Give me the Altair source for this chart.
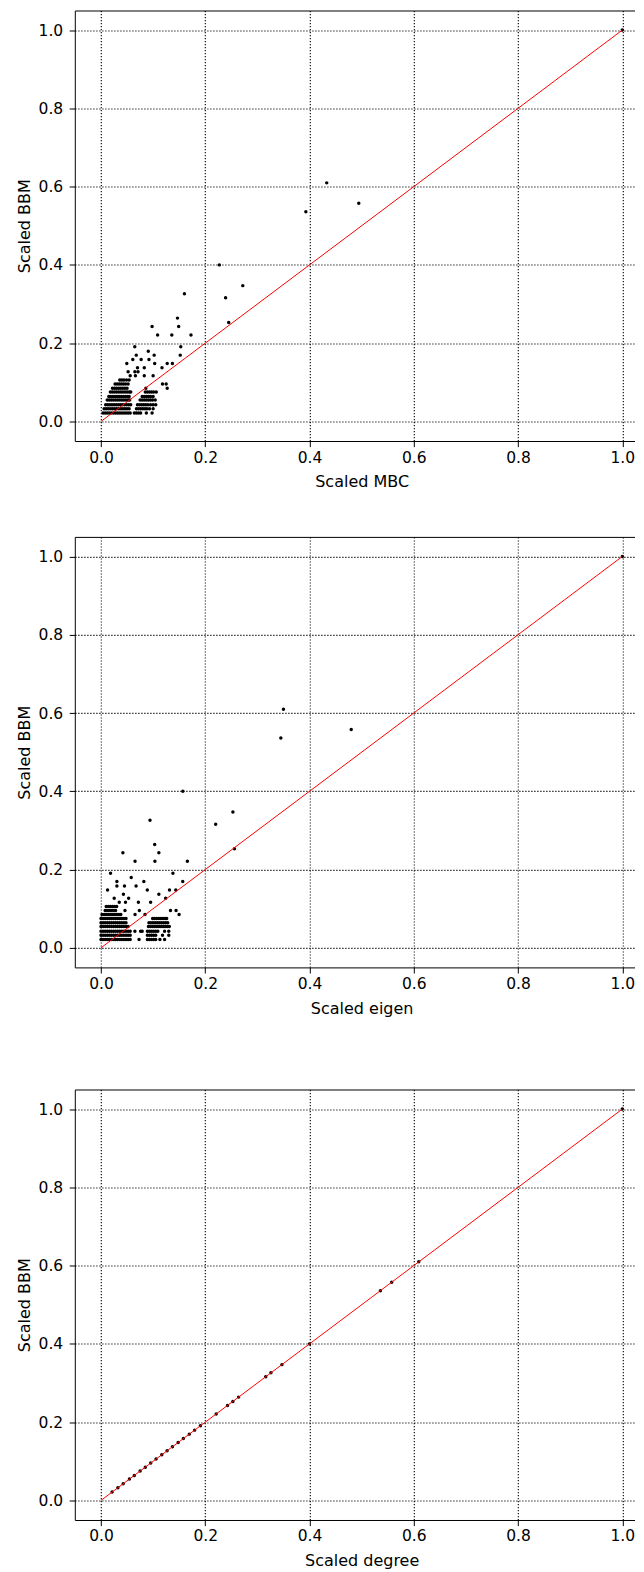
import altair as alt
import pandas as pd

# BBM levels (y values, shared by the three panels)
bbm_levels = [0.0213, 0.0324, 0.0426, 0.0545, 0.0639, 0.0750, 0.0850, 0.0954,
              0.1056, 0.1166, 0.1268, 0.1370, 0.1480, 0.1580, 0.1694, 0.1796,
              0.1907, 0.2210, 0.2427, 0.2530, 0.2640, 0.3160, 0.3260, 0.3470,
              0.4000, 0.5360, 0.5577, 0.6096, 1.0000]

# Scaled MBC values for each BBM level
mbc_rows = [
    [0.004, 0.008, 0.012, 0.016, 0.020, 0.024, 0.028, 0.032, 0.036, 0.040, 0.044, 0.048, 0.052, 0.056, 0.064, 0.068, 0.072, 0.076, 0.087, 0.098],
    [0.006, 0.010, 0.014, 0.018, 0.022, 0.026, 0.030, 0.034, 0.038, 0.042, 0.046, 0.050, 0.054, 0.068, 0.072, 0.076, 0.080, 0.084, 0.088, 0.093, 0.100],
    [0.009, 0.013, 0.017, 0.021, 0.025, 0.029, 0.033, 0.037, 0.041, 0.045, 0.049, 0.053, 0.057, 0.070, 0.074, 0.078, 0.082, 0.086, 0.090, 0.095, 0.100, 0.105],
    [0.012, 0.016, 0.020, 0.024, 0.028, 0.032, 0.036, 0.040, 0.044, 0.048, 0.052, 0.055, 0.075, 0.079, 0.083, 0.087, 0.091, 0.095, 0.099, 0.104],
    [0.015, 0.019, 0.023, 0.027, 0.031, 0.035, 0.039, 0.043, 0.047, 0.051, 0.054, 0.079, 0.083, 0.087, 0.091, 0.095, 0.100],
    [0.018, 0.022, 0.026, 0.030, 0.034, 0.038, 0.042, 0.046, 0.050, 0.054, 0.057, 0.085, 0.089, 0.093, 0.097, 0.101, 0.106],
    [0.022, 0.026, 0.030, 0.034, 0.038, 0.042, 0.046, 0.050, 0.086, 0.127],
    [0.027, 0.031, 0.035, 0.039, 0.043, 0.047, 0.052, 0.118, 0.125],
    [0.036, 0.040, 0.044, 0.049, 0.054],
    [0.056, 0.066, 0.083, 0.100],
    [0.052, 0.065, 0.071],
    [0.070, 0.083, 0.117],
    [0.0495, 0.103, 0.127, 0.137],
    [0.061, 0.077, 0.092],
    [0.0676, 0.102, 0.152],
    [0.0907],
    [0.0648, 0.153],
    [0.1086, 0.1358, 0.1726],
    [0.098, 0.149],
    [0.245],
    [0.1467],
    [0.239],
    [0.160],
    [0.272],
    [0.227],
    [0.393],
    [0.4945],
    [0.433],
    [1.0],
]

# Scaled eigen values for each BBM level
eigen_rows = [
    [0.000, 0.004, 0.008, 0.012, 0.016, 0.020, 0.024, 0.028, 0.032, 0.036, 0.040, 0.044, 0.048, 0.052, 0.056, 0.073, 0.089, 0.093, 0.097, 0.101, 0.105, 0.113, 0.122],
    [0.000, 0.004, 0.008, 0.012, 0.016, 0.020, 0.024, 0.028, 0.032, 0.036, 0.040, 0.044, 0.048, 0.052, 0.056, 0.089, 0.093, 0.097, 0.101, 0.105, 0.118, 0.130],
    [0.000, 0.004, 0.008, 0.012, 0.016, 0.020, 0.024, 0.028, 0.032, 0.036, 0.040, 0.044, 0.048, 0.052, 0.056, 0.065, 0.076, 0.079, 0.089, 0.093, 0.097, 0.101, 0.105, 0.109, 0.122, 0.130],
    [0.000, 0.004, 0.008, 0.012, 0.016, 0.020, 0.024, 0.028, 0.032, 0.036, 0.040, 0.044, 0.048, 0.052, 0.091, 0.095, 0.099, 0.103, 0.107, 0.111, 0.115, 0.119, 0.123, 0.127, 0.131],
    [0.000, 0.004, 0.008, 0.012, 0.016, 0.020, 0.024, 0.028, 0.032, 0.036, 0.040, 0.044, 0.048, 0.092, 0.096, 0.100, 0.104, 0.108, 0.112, 0.116, 0.120, 0.124, 0.128],
    [0.000, 0.004, 0.008, 0.012, 0.016, 0.020, 0.024, 0.028, 0.032, 0.036, 0.040, 0.044, 0.048, 0.099, 0.103, 0.107, 0.111, 0.115, 0.119, 0.123, 0.126],
    [0.002, 0.006, 0.010, 0.014, 0.018, 0.022, 0.026, 0.030, 0.034, 0.038, 0.0653, 0.0844, 0.1498],
    [0.008, 0.012, 0.016, 0.020, 0.024, 0.028, 0.046, 0.0736, 0.1333, 0.144],
    [0.010, 0.014, 0.018, 0.022, 0.026, 0.030],
    [0.035, 0.047, 0.0717, 0.0952],
    [0.0253, 0.053, 0.124],
    [0.043, 0.111],
    [0.0126, 0.0888, 0.1314, 0.1435],
    [0.0305, 0.045, 0.0673],
    [0.0305, 0.0822, 0.1568],
    [0.058],
    [0.0183, 0.138],
    [0.0653, 0.1034, 0.1657],
    [0.042, 0.111],
    [0.256],
    [0.103],
    [0.220],
    [0.094],
    [0.253],
    [0.157],
    [0.345],
    [0.480],
    [0.350],
    [1.0],
]

# Scaled degree equals BBM for every node
degree_values = bbm_levels

tick_values = [0.0, 0.2, 0.4, 0.6, 0.8, 1.0]
diag = pd.DataFrame({"x": [0.0, 1.0], "y": [0.0, 1.0]})

PX_PER_UNIT = 521.3           # horizontal pixels per unit
X0_PX = 26.2                  # distance from left frame to x = 0
W = 560.5                     # visible part of the plot (right side cut by the page)
H = 430.5
X_MIN = -X0_PX / PX_PER_UNIT
X_MAX = (W - X0_PX) / PX_PER_UNIT


def rows_to_df(rows):
    xs, ys = [], []
    for yv, row in zip(bbm_levels, rows):
        for xv in row:
            xs.append(xv)
            ys.append(yv)
    return pd.DataFrame({"x": xs, "y": ys})


def panel(df, xtitle):
    xaxis = alt.Axis(values=tick_values, format=".1f", title=xtitle,
                     titleY=45.7, titleX=X0_PX + 0.5 * PX_PER_UNIT,
                     titleBaseline="alphabetic",
                     labelBaseline="alphabetic", labelPadding=15.4,
                     domain=True, domainColor="black", domainWidth=1)
    yaxis = alt.Axis(values=tick_values, format=".1f", title="Scaled BBM",
                     titleX=-45.5, titleY=H / 2, titleAngle=270,
                     titleBaseline="alphabetic", titleAlign="center",
                     labelPadding=6.5,
                     domain=True, domainColor="black", domainWidth=1)
    topaxis = alt.Axis(orient="top", labels=False, ticks=False, grid=False,
                       title=None, domain=True, domainColor="black",
                       domainWidth=1)
    xs = alt.Scale(domain=[X_MIN, X_MAX], nice=False, zero=False)
    ys = alt.Scale(domain=[-0.05, 1.05], nice=False, zero=False)
    pts = alt.Chart(df).mark_circle(size=12, color="black", opacity=1).encode(
        x=alt.X("x:Q", scale=xs, axis=xaxis),
        y=alt.Y("y:Q", scale=ys, axis=yaxis),
    )
    line = alt.Chart(diag).mark_line(color="red", strokeWidth=1).encode(
        x=alt.X("x:Q", scale=xs, axis=topaxis),
        y=alt.Y("y:Q", scale=ys, axis=yaxis),
    )
    return alt.layer(pts, line).resolve_axis(x="independent").properties(
        width=W, height=H)


p1 = panel(rows_to_df(mbc_rows), "Scaled MBC")
p2 = panel(rows_to_df(eigen_rows), "Scaled eigen")
p3 = panel(pd.DataFrame({"x": degree_values, "y": degree_values}), "Scaled degree")

top = alt.vconcat(p1, p2, spacing=46.4)
chart = alt.vconcat(top, p3, spacing=73).properties(
    padding={"left": 7.8, "top": 2.5, "right": 0, "bottom": 0}
).configure(font="DejaVu Sans").configure_view(
    strokeWidth=0
).configure_axis(
    labelFontSize=15.5, titleFontSize=16, titleFontWeight="normal",
    labelColor="black", titleColor="black", tickColor="black",
    tickSize=5.6, tickWidth=1,
    grid=True, gridColor="black", gridDash=[1.2, 1.8], gridWidth=1.1,
    gridOpacity=1, labelFont="DejaVu Sans", titleFont="DejaVu Sans",
)

chart.save("out.html", embed_options={"renderer": "svg", "actions": False})
